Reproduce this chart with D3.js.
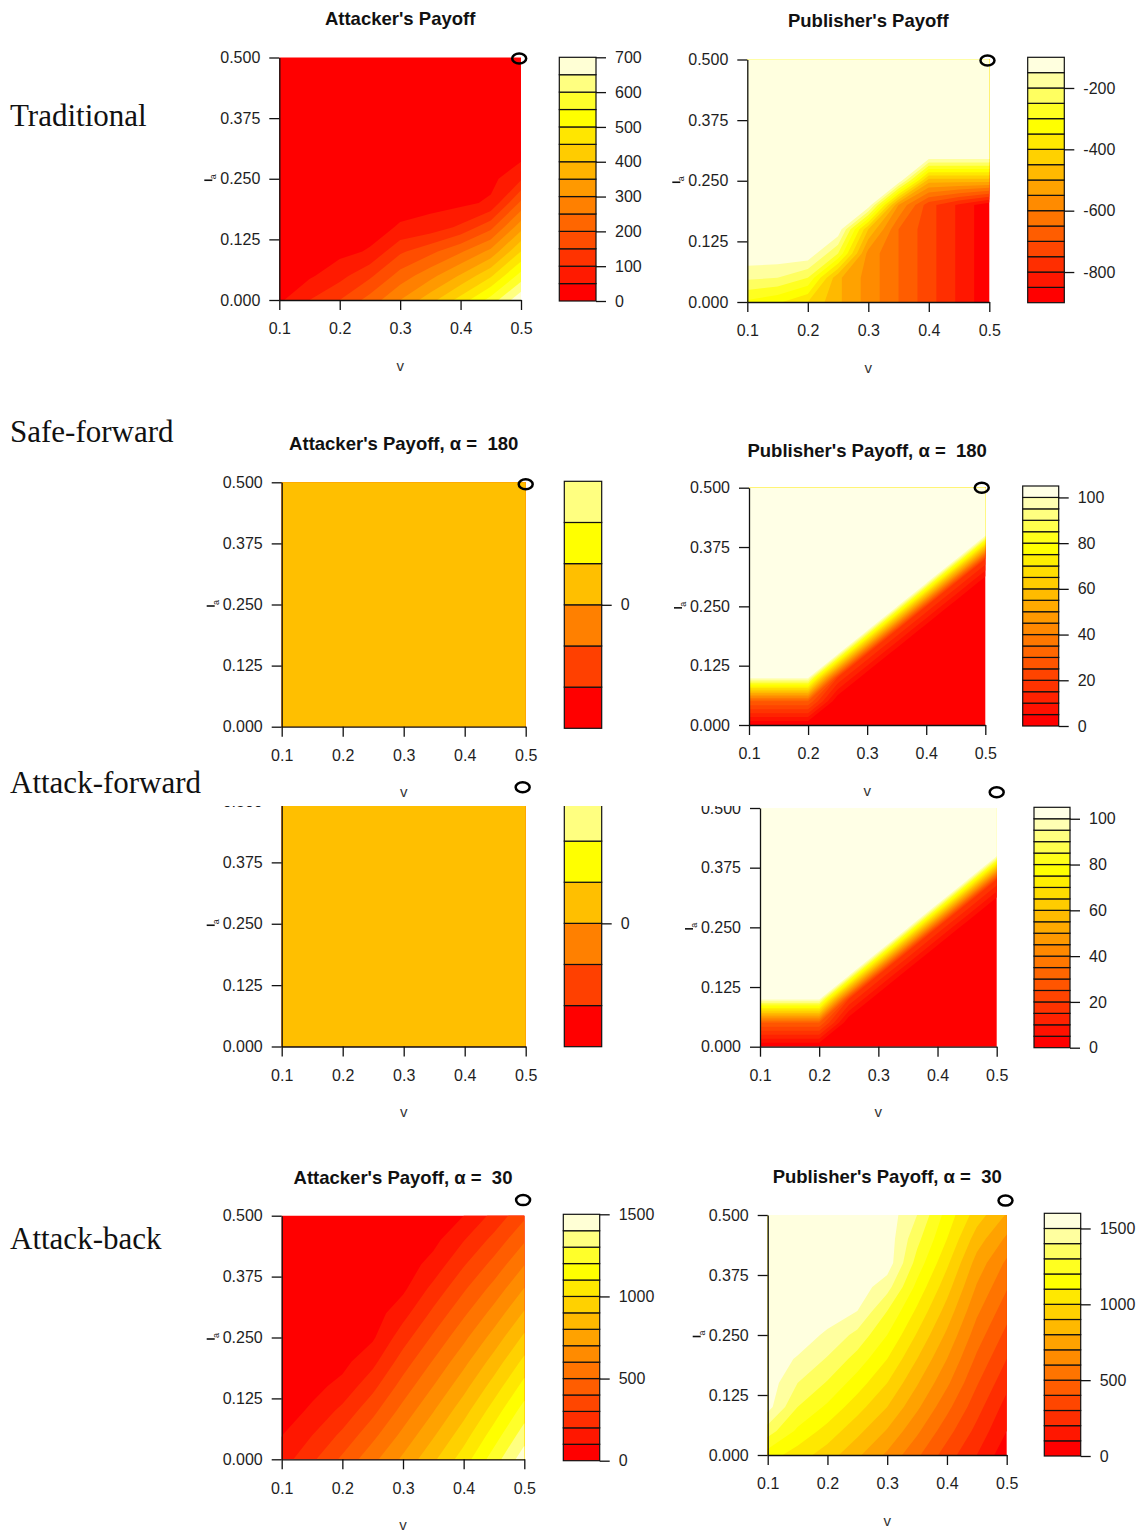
<!DOCTYPE html>
<html>
<head>
<meta charset="utf-8">
<script src="https://cdn.jsdelivr.net/npm/d3@7"></script>
<style>
  body { margin: 0; background: #fff; }
  svg { display: block; }
</style>
</head>
<body>
<div class="canvas"></div>
<script>
// grid of the payoff surfaces: v along x, a along y
const vGrid = [0.1, 0.15, 0.2, 0.25, 0.3, 0.35, 0.4, 0.45, 0.5];
const aGrid = [0, 0.05, 0.1, 0.15, 0.2, 0.25, 0.3, 0.35, 0.4, 0.45, 0.5];
const xTicks = [0.1, 0.2, 0.3, 0.4, 0.5];
const yTicks = [0, 0.125, 0.25, 0.375, 0.5];

const rowLabels = ['Traditional', 'Safe-forward', 'Attack-forward', 'Attack-back'];

// one row per a value, bottom (a = 0) to top (a = 0.5)
const tradAttacker = [
  [40, 100, 150, 220, 300, 380, 470, 570, 690],
  [25, 42, 83, 140, 220, 283, 356, 442, 571],
  [15, 30, 35, 55, 141, 186, 243, 314, 451],
  [8, 20, 22, 30, 55, 70, 110, 186, 332],
  [4, 10, 12, 20, 32, 34, 38, 58, 212],
  [2, 5, 6, 12, 20, 22, 26, 35, 93],
  [0, 2, 3, 6, 12, 12, 15, 22, 32],
  [0, 0, 1, 3, 6, 6, 8, 12, 20],
  [0, 0, 0, 1, 2, 3, 4, 6, 12],
  [0, 0, 0, 0, 0, 1, 2, 3, 6],
  [0, 0, 0, 0, 0, 0, 0, 1, 3]
];

const tradPublisher = [
  [-310, -340, -400, -490, -570, -650, -730, -810, -890],
  [-190, -200, -250, -490, -570, -650, -730, -810, -890],
  [-110, -110, -110, -250, -570, -650, -730, -810, -890],
  [-110, -110, -110, -110, -450, -650, -730, -810, -890],
  [-110, -110, -110, -110, -110, -550, -730, -810, -890],
  [-110, -110, -110, -110, -110, -110, -480, -480, -480],
  [-110, -110, -110, -110, -110, -110, -110, -110, -110],
  [-110, -110, -110, -110, -110, -110, -110, -110, -110],
  [-110, -110, -110, -110, -110, -110, -110, -110, -110],
  [-110, -110, -110, -110, -110, -110, -110, -110, -110],
  [-110, -110, -110, -110, -110, -110, -110, -110, -110]
];

// attacker payoff is flat under both forward strategies
const fwdAttacker = [
  [0, 0, 0, 0, 0, 0, 0, 0, 0],
  [0, 0, 0, 0, 0, 0, 0, 0, 0],
  [0, 0, 0, 0, 0, 0, 0, 0, 0],
  [0, 0, 0, 0, 0, 0, 0, 0, 0],
  [0, 0, 0, 0, 0, 0, 0, 0, 0],
  [0, 0, 0, 0, 0, 0, 0, 0, 0],
  [0, 0, 0, 0, 0, 0, 0, 0, 0],
  [0, 0, 0, 0, 0, 0, 0, 0, 0],
  [0, 0, 0, 0, 0, 0, 0, 0, 0],
  [0, 0, 0, 0, 0, 0, 0, 0, 0],
  [0, 0, 0, 0, 0, 0, 0, 0, 0]
];

const fwdPublisher = [
  [0, 0, 0, 0, 0, 0, 0, 0, 0],
  [30, 30, 30, 0, 0, 0, 0, 0, 0],
  [102, 102, 102, 20, 0, 0, 0, 0, 0],
  [102, 102, 102, 102, 20, 0, 0, 0, 0],
  [102, 102, 102, 102, 102, 20, 0, 0, 0],
  [102, 102, 102, 102, 102, 102, 20, 0, 0],
  [102, 102, 102, 102, 102, 102, 102, 20, 0],
  [102, 102, 102, 102, 102, 102, 102, 102, 20],
  [102, 102, 102, 102, 102, 102, 102, 102, 102],
  [102, 102, 102, 102, 102, 102, 102, 102, 102],
  [102, 102, 102, 102, 102, 102, 102, 102, 102]
];

const backAttacker = [
  [150, 280, 420, 570, 720, 880, 1050, 1250, 1460],
  [97, 198, 323, 470, 627, 787, 955, 1148, 1352],
  [50, 116, 226, 370, 534, 694, 860, 1046, 1244],
  [20, 70, 129, 270, 442, 601, 765, 944, 1136],
  [5, 40, 70, 170, 349, 509, 670, 842, 1028],
  [0, 20, 40, 85, 256, 416, 575, 740, 920],
  [0, 8, 20, 50, 163, 323, 480, 638, 812],
  [0, 0, 8, 25, 80, 230, 385, 536, 704],
  [0, 0, 0, 10, 45, 137, 290, 434, 596],
  [0, 0, 0, 0, 20, 70, 195, 332, 488],
  [0, 0, 0, 0, 5, 35, 100, 230, 380]
];

const backPublisher = [
  [1150, 1050, 950, 820, 680, 520, 350, 200, 30],
  [1350, 1180, 1060, 930, 790, 620, 440, 270, 100],
  [1540, 1300, 1180, 1040, 900, 720, 530, 340, 160],
  [1560, 1400, 1290, 1150, 1000, 810, 620, 410, 230],
  [1560, 1490, 1390, 1260, 1100, 900, 700, 480, 300],
  [1560, 1560, 1480, 1370, 1200, 990, 780, 550, 370],
  [1560, 1560, 1560, 1500, 1300, 1080, 860, 620, 440],
  [1560, 1560, 1560, 1560, 1440, 1170, 940, 690, 510],
  [1560, 1560, 1560, 1560, 1560, 1260, 1020, 760, 580],
  [1560, 1560, 1560, 1560, 1560, 1330, 1100, 850, 680],
  [1560, 1560, 1560, 1560, 1560, 1400, 1160, 950, 790]
];

// contour levels and key ticks
const tradAttLevels = d3.range(0, 701, 50);
const tradAttTicks = [0, 100, 200, 300, 400, 500, 600, 700];
const tradPubLevels = d3.range(-900, -99, 50);
const tradPubTicks = [-800, -600, -400, -200];
const flatLevels = [-3, -2, -1, 0, 1, 2, 3];
const flatTicks = [0];
const fwdPubLevels = d3.range(0, 106, 5);
const fwdPubTicks = [0, 20, 40, 60, 80, 100];
const backAttLevels = d3.range(0, 1501, 100);
const backPubLevels = d3.range(0, 1601, 100);
const backTicks = [0, 500, 1000, 1500];

const svg = d3.select('.canvas')
  .append('svg')
  .attr('width', 1140)
  .attr('height', 1532);

const defs = svg.append('defs');

// R's heat.colors(n)
const heatColors = n => {
  const j = Math.floor(n / 4), i = n - j;
  const cols = [];
  for (let k = 0; k < i; k++) {
    cols.push(d3.rgb(255, i > 1 ? 255 * k / (i - 1) : 0, 0).formatHex());
  }
  for (let k = 0; k < j; k++) {
    const s = j > 1 ? (1 - 1 / (2 * j)) - k * ((1 - 1 / j) / (j - 1)) : 0.5;
    cols.push(d3.rgb(255, 255, 255 * (1 - s)).formatHex());
  }
  return cols;
};

const panels = [
  { z: tradAttacker, levels: tradAttLevels, ticks: tradAttTicks, title: "Attacker's Payoff",
    plot: { left: 279.3, right: 521, top: 57.5, bottom: 300 },
    key: { left: 559.3, right: 596, top: 57.3, bottom: 301 }, titleY: 25, marker: [0.497, 0.498] },
  { z: tradPublisher, levels: tradPubLevels, ticks: tradPubTicks, title: "Publisher's Payoff",
    plot: { left: 747.3, right: 989.3, top: 59.5, bottom: 302 },
    key: { left: 1027.7, right: 1064.3, top: 57.3, bottom: 302.7 }, titleY: 27, marker: [0.497, 0.498] },
  { z: fwdAttacker, levels: flatLevels, ticks: flatTicks, title: "Attacker's Payoff, \u03b1 =  180",
    plot: { left: 281.7, right: 525.7, top: 482.3, bottom: 726.7 },
    key: { left: 564.3, right: 601.7, top: 481.3, bottom: 728.3 }, titleY: 450, marker: [0.5, 0.496] },
  { z: fwdPublisher, levels: fwdPubLevels, ticks: fwdPubTicks, title: "Publisher's Payoff, \u03b1 =  180",
    plot: { left: 749, right: 985.3, top: 487.7, bottom: 725 },
    key: { left: 1022.7, right: 1058.7, top: 486, bottom: 726 }, titleY: 457, marker: [0.494, 0.5] },
  { z: fwdAttacker, levels: flatLevels, ticks: flatTicks, title: null, clipTop: 806,
    plot: { left: 281.7, right: 525.7, top: 801, bottom: 1046.5 },
    key: { left: 564.3, right: 601.7, top: 800, bottom: 1046.7 }, marker: [0.495, 0.528] },
  { z: fwdPublisher, levels: fwdPubLevels, ticks: fwdPubTicks, title: null, clipTop: 806,
    plot: { left: 760, right: 996.7, top: 808, bottom: 1046.7 },
    key: { left: 1034, right: 1070, top: 807.3, bottom: 1047.7 }, marker: [0.5, 0.533] },
  { z: backAttacker, levels: backAttLevels, ticks: backTicks, title: "Attacker's Payoff, \u03b1 =  30",
    plot: { left: 281.7, right: 524.3, top: 1215.7, bottom: 1459.3 },
    key: { left: 563.3, right: 599.7, top: 1214.3, bottom: 1460.7 }, titleY: 1184, marker: [0.498, 0.532] },
  { z: backPublisher, levels: backPubLevels, ticks: backTicks, title: "Publisher's Payoff, \u03b1 =  30",
    plot: { left: 767.7, right: 1006.7, top: 1215, bottom: 1455 },
    key: { left: 1044.3, right: 1080.7, top: 1213.3, bottom: 1456 }, titleY: 1183, marker: [0.498, 0.53] }
];

const rowLabelY = [126, 442, 793, 1249];

const textColor = '#1e1e1e';
const sans = '"Liberation Sans", Arial, sans-serif';

const drawPanel = (p, idx) => {
  const g = svg.append('g');
  if (p.clipTop) {
    defs.append('clipPath').attr('id', `crop${idx}`)
      .append('rect').attr('x', 0).attr('y', p.clipTop).attr('width', 1140).attr('height', 1532 - p.clipTop);
    g.attr('clip-path', `url(#crop${idx})`);
  }

  const x = d3.scaleLinear().domain([0.1, 0.5]).range([p.plot.left, p.plot.right]);
  const y = d3.scaleLinear().domain([0, 0.5]).range([p.plot.bottom, p.plot.top]);

  // filled contours, grid cell centres mapped onto the v / a values
  const nx = vGrid.length, ny = aGrid.length;
  const dv = vGrid[1] - vGrid[0], da = aGrid[1] - aGrid[0];
  const proj = d3.geoTransform({
    point(px, py) {
      this.stream.point(x(vGrid[0] + (px - 0.5) * dv), y(aGrid[0] + (py - 0.5) * da));
    }
  });
  const path = d3.geoPath(proj);
  const colors = heatColors(p.levels.length - 1);
  const contours = d3.contours()
    .size([nx, ny])
    .thresholds(p.levels.slice(0, -1))(p.z.flat());

  defs.append('clipPath').attr('id', `plot${idx}`)
    .append('rect')
    .attr('x', p.plot.left).attr('y', p.plot.top)
    .attr('width', p.plot.right - p.plot.left).attr('height', p.plot.bottom - p.plot.top);

  g.append('g')
    .attr('clip-path', `url(#plot${idx})`)
    .selectAll('path')
    .data(contours)
    .join('path')
    .attr('d', path)
    .attr('fill', d => colors[p.levels.indexOf(d.value)]);

  // axes
  const yAxis = d3.axisLeft(y).tickValues(yTicks).tickSize(10).tickSizeOuter(0)
    .tickPadding(9).tickFormat(d3.format('.3f'));
  const xAxis = d3.axisBottom(x).tickValues(xTicks).tickSize(10).tickSizeOuter(0)
    .tickPadding(13).tickFormat(d3.format('.1f'));

  const yG = g.append('g').attr('transform', `translate(${p.plot.left},0)`).call(yAxis);
  const xG = g.append('g').attr('transform', `translate(0,${p.plot.bottom})`).call(xAxis);
  [yG, xG].forEach(ax => {
    ax.selectAll('path, line').attr('stroke', '#111').attr('stroke-width', 1.3);
    ax.selectAll('text').attr('fill', textColor)
      .style('font-family', sans).style('font-size', '16px');
  });

  // axis titles: v below, a beside the middle y tick
  g.append('text')
    .attr('x', (p.plot.left + p.plot.right) / 2)
    .attr('y', p.plot.bottom + 70.5)
    .attr('text-anchor', 'middle')
    .attr('fill', '#333')
    .style('font-family', sans)
    .style('font-size', '15px')
    .text('v');

  const ya = y(0.25);
  g.append('line')
    .attr('x1', p.plot.left - 75).attr('x2', p.plot.left - 67)
    .attr('y1', ya + 1.5).attr('y2', ya + 1.5)
    .attr('stroke', '#111').attr('stroke-width', 1.6);
  g.append('text')
    .attr('transform', `translate(${p.plot.left - 63},${ya - 2}) rotate(-90)`)
    .attr('text-anchor', 'middle')
    .attr('fill', textColor)
    .style('font-family', sans)
    .style('font-size', '9px')
    .text('a');

  // colour key
  const yk = d3.scaleLinear()
    .domain([p.levels[0], p.levels[p.levels.length - 1]])
    .range([p.key.bottom, p.key.top]);
  g.append('g')
    .selectAll('rect')
    .data(d3.pairs(p.levels))
    .join('rect')
    .attr('x', p.key.left)
    .attr('width', p.key.right - p.key.left)
    .attr('y', d => yk(d[1]))
    .attr('height', d => yk(d[0]) - yk(d[1]))
    .attr('fill', (d, i) => colors[i])
    .attr('stroke', '#111')
    .attr('stroke-width', 1.2);

  const kAxis = d3.axisRight(yk).tickValues(p.ticks).tickSize(10).tickSizeOuter(0)
    .tickPadding(9).tickFormat(d => String(d));
  const kG = g.append('g').attr('transform', `translate(${p.key.right},0)`).call(kAxis);
  kG.select('.domain').remove();
  kG.selectAll('line').attr('stroke', '#111').attr('stroke-width', 1.3);
  kG.selectAll('text').attr('fill', textColor)
    .style('font-family', sans).style('font-size', '16px');

  if (p.title) {
    svg.append('text')
      .attr('x', (p.plot.left + p.plot.right) / 2)
      .attr('y', p.titleY)
      .attr('text-anchor', 'middle')
      .attr('fill', '#111')
      .style('white-space', 'pre')
      .style('font-family', sans)
      .style('font-weight', 'bold')
      .style('font-size', '18.5px')
      .text(p.title);
  }

  // marker circle near the (0.5, 0.5) corner
  svg.append('ellipse')
    .attr('cx', x(p.marker[0]))
    .attr('cy', y(p.marker[1]))
    .attr('rx', 7)
    .attr('ry', 5)
    .attr('fill', 'none')
    .attr('stroke', '#000')
    .attr('stroke-width', 2.5);
};

panels.forEach(drawPanel);

svg.selectAll('.row-label')
  .data(rowLabels)
  .join('text')
  .attr('class', 'row-label')
  .attr('x', 10)
  .attr('y', (d, i) => rowLabelY[i])
  .attr('fill', '#111')
  .style('font-family', '"Liberation Serif", "Times New Roman", serif')
  .style('font-size', '31px')
  .text(d => d);
</script>
</body>
</html>
